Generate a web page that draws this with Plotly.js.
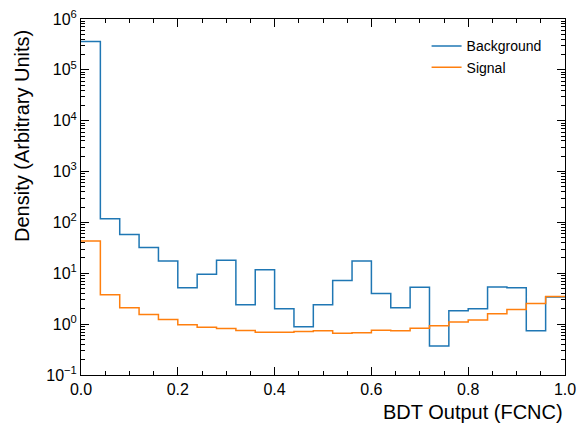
<!DOCTYPE html>
<html>
<head>
<meta charset="utf-8">
<script src="https://cdn.plot.ly/plotly-3.0.1.min.js"></script>
<style>html,body{margin:0;padding:0;background:#fff;}#chart{width:579px;height:428px;}</style>
</head>
<body>
<div id="chart"></div>
<script>
// Bin edges (BDT output)
const binEdges = [0.00,0.04,0.08,0.12,0.16,0.20,0.24,0.28,0.32,0.36,0.40,0.44,0.48,0.52,0.56,0.60,0.64,0.68,0.72,0.76,0.80,0.84,0.88,0.92,0.96,1.00];
// Density per bin
const background = [3.6e5,118,58,32,17.5,5.2,9.6,18,2.4,11.8,2.0,0.885,2.4,7.2,17.4,4.0,2.1,5.3,0.37,1.84,2.0,5.4,5.2,0.74,3.4];
const signal = [43,3.8,2.1,1.55,1.24,0.97,0.87,0.82,0.75,0.69,0.69,0.72,0.74,0.66,0.68,0.76,0.74,0.83,0.93,1.1,1.2,1.6,1.94,2.55,3.5];
const seriesNames = ["Background","Signal"];
const seriesColors = ["#1f77b4","#ff7f0e"];
// Y tick labels
const yTickVals = [0.1,1,10,100,1000,10000,100000,1000000];
const yTickText = ["10<sup>−1</sup>","10<sup>0</sup>","10<sup>1</sup>","10<sup>2</sup>","10<sup>3</sup>","10<sup>4</sup>","10<sup>5</sup>","10<sup>6</sup>"];

function stepTrace(vals, name, color){
  const x = binEdges.slice();
  const y = vals.concat([vals[vals.length-1]]);
  return {x:x, y:y, name:name, type:'scatter', mode:'lines',
          line:{shape:'hv', color:color, width:1.5}};
}

const data = [stepTrace(background, seriesNames[0], seriesColors[0]),
              stepTrace(signal, seriesNames[1], seriesColors[1])];

const font = {family:'"Liberation Sans", Arial, Helvetica, sans-serif', color:'#000'};

const layout = {
  width:579, height:428,
  margin:{l:81, r:14, t:19, b:53},
  paper_bgcolor:'#fff', plot_bgcolor:'#fff',
  font:font,
  showlegend:true,
  legend:{x:0.714, y:0.968, xanchor:'left', yanchor:'top', bgcolor:'rgba(0,0,0,0)',
          font:{family:font.family, size:14, color:'#000'}, tracegroupgap:0},
  xaxis:{range:[0,1], showgrid:false, zeroline:false, showline:true, linecolor:'#000', linewidth:1,
         mirror:'ticks', ticks:'inside', ticklen:8, tickwidth:1, tickcolor:'#000',
         tick0:0, dtick:0.2, tickformat:'.1f',
         tickfont:{family:font.family, size:16, color:'#000'},
         minor:{ticks:'inside', ticklen:4, dtick:0.05, tickcolor:'#000', showgrid:false}},
  yaxis:{type:'log', range:[-1,6], showgrid:false, zeroline:false, showline:true, linecolor:'#000', linewidth:1,
         mirror:'ticks', ticks:'inside', ticklen:8, tickwidth:1, tickcolor:'#000',
         tickmode:'array', tickvals:yTickVals, ticktext:yTickText,
         tickfont:{family:font.family, size:16, color:'#000'},
         minor:{ticks:'inside', ticklen:4, dtick:'D1', tickcolor:'#000', showgrid:false}},
  annotations:[
    {text:'BDT Output (FCNC)', xref:'paper', yref:'paper', x:1, y:0, xanchor:'right', yanchor:'top',
     yshift:-24, showarrow:false, font:{family:font.family, size:20, color:'#000'}},
    {text:'Density (Arbitrary Units)', xref:'paper', yref:'paper', x:0, y:1, xanchor:'center', yanchor:'top',
     xshift:-59, yshift:-9, textangle:-90, showarrow:false, font:{family:font.family, size:20, color:'#000'}}
  ]
};

Plotly.newPlot('chart', data, layout, {displayModeBar:false, staticPlot:true});
</script>
</body>
</html>
